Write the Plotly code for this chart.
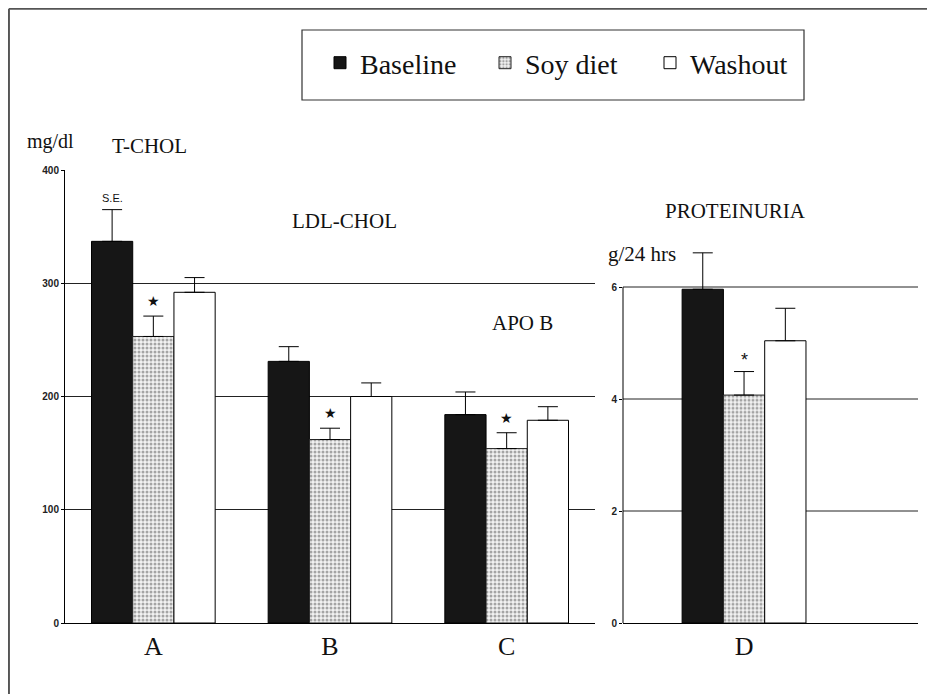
import plotly.graph_objects as go

# ---- data ----
groups_left = ["A", "B", "C"]
baseline_left = [337, 231, 184]
baseline_left_se = [28, 13, 20]
soy_left = [253, 162, 154]
soy_left_se = [18, 10, 14]
washout_left = [292, 200, 179]
washout_left_se = [13, 12, 12]

group_right = ["D"]
baseline_right = [5.96]
baseline_right_se = [0.65]
soy_right = [4.07]
soy_right_se = [0.42]
washout_right = [5.04]
washout_right_se = [0.58]

left_ticks = [0, 100, 200, 300, 400]
right_ticks = [0, 2, 4, 6]

W, H = 935, 694
OFF = 8  # page body margin

def px(x):
    return (x - OFF) / W
def py(y):
    return (H - (y - OFF)) / H

SERIF = "Liberation Serif"
SANS = "Liberation Sans"

base_style = dict(marker=dict(color="#161616", line=dict(color="black", width=1)))
soy_style = dict(marker=dict(color="white", line=dict(color="#222", width=1),
                             pattern=dict(shape=".", fgcolor="#555", bgcolor="#f2f2f2",
                                          size=4, solidity=0.45)))
wash_style = dict(marker=dict(color="white", line=dict(color="black", width=1)))

def err(vals):
    return dict(type="data", array=vals, arrayminus=[0] * len(vals), symmetric=False,
                color="black", thickness=1, width=10)

fig = go.Figure()
fig.add_trace(go.Bar(name="Baseline", x=groups_left, y=baseline_left, error_y=err(baseline_left_se),
                     xaxis="x", yaxis="y", legendgroup="b", **base_style))
fig.add_trace(go.Bar(name="Soy diet", x=groups_left, y=soy_left, error_y=err(soy_left_se),
                     xaxis="x", yaxis="y", legendgroup="s", **soy_style))
fig.add_trace(go.Bar(name="Washout", x=groups_left, y=washout_left, error_y=err(washout_left_se),
                     xaxis="x", yaxis="y", legendgroup="w", **wash_style))
fig.add_trace(go.Bar(name="Baseline", x=group_right, y=baseline_right, error_y=err(baseline_right_se),
                     xaxis="x2", yaxis="y2", legendgroup="b", showlegend=False, **base_style))
fig.add_trace(go.Bar(name="Soy diet", x=group_right, y=soy_right, error_y=err(soy_right_se),
                     xaxis="x2", yaxis="y2", legendgroup="s", showlegend=False, **soy_style))
fig.add_trace(go.Bar(name="Washout", x=group_right, y=washout_right, error_y=err(washout_right_se),
                     xaxis="x2", yaxis="y2", legendgroup="w", showlegend=False, **wash_style))

y0 = py(623)
left_top = py(170)
right_unit = (623 - 287) / 6.0
right_max = 6.8
right_top = py(623 - right_max * right_unit)

tickfont = dict(family=SANS, size=10, color="#222", weight="bold")
catfont = dict(family=SERIF, size=26, color="#111")

fig.update_layout(
    width=W, height=H,
    margin=dict(l=0, r=0, t=0, b=0, pad=0, autoexpand=False),
    paper_bgcolor="white", plot_bgcolor="rgba(0,0,0,0)",
    barmode="group", bargap=0.30, bargroupgap=0,
    font=dict(family=SERIF, color="#111"),
    showlegend=True,
    legend=dict(orientation="h", x=px(320), y=py(63), xanchor="left", yanchor="middle",
                bgcolor="rgba(0,0,0,0)", borderwidth=0,
                font=dict(family=SERIF, size=28, color="#111"),
                entrywidth=120, entrywidthmode="pixels", traceorder="normal"),
    xaxis=dict(domain=[px(65), px(595)], range=[-0.5, 2.5], showline=True, linecolor="black",
               linewidth=1, showgrid=False, zeroline=False, showticklabels=True,
               tickfont=catfont, ticks="", ticklabelstandoff=0),
    yaxis=dict(domain=[y0, left_top], range=[0, 400], showline=True, linecolor="black",
               linewidth=1, showgrid=True, gridcolor="#222", gridwidth=1, zeroline=False,
               tickvals=left_ticks, ticks="outside", ticklen=3, tickcolor="black",
               tickfont=tickfont, anchor="x"),
    xaxis2=dict(domain=[px(623), px(918)], range=[-0.684, 0.983], showline=True, linecolor="black",
                linewidth=1, showgrid=False, zeroline=False, showticklabels=True, ticks="",
                tickfont=catfont, ticklabelstandoff=0, anchor="y2"),
    yaxis2=dict(domain=[y0, right_top], range=[0, right_max], showline=False, showgrid=False,
                zeroline=False, tickvals=right_ticks, ticks="outside", ticklen=3,
                tickcolor="black", tickfont=tickfont, anchor="x2"),
)

shapes = []
# right panel axis line and grid lines limited to 0..6
shapes.append(dict(type="line", xref="x2 domain", yref="y2", x0=0, x1=0, y0=0, y1=6,
                   line=dict(color="black", width=1), layer="above"))
for v in right_ticks[1:]:
    shapes.append(dict(type="line", xref="x2 domain", yref="y2", x0=0, x1=1, y0=v, y1=v,
                       line=dict(color="#222", width=1), layer="below"))
# legend box
shapes.append(dict(type="rect", xref="paper", yref="paper", x0=px(302), x1=px(804),
                   y0=py(100), y1=py(30), line=dict(color="#333", width=1.2)))
# outer frame (left and top edges visible)
shapes.append(dict(type="line", xref="paper", yref="paper", x0=0.001, x1=1,
                   y0=0.999, y1=0.999, line=dict(color="#555", width=2)))
shapes.append(dict(type="line", xref="paper", yref="paper", x0=0.001, x1=0.001,
                   y0=0, y1=0.999, line=dict(color="#555", width=2)))
fig.update_layout(shapes=shapes)

ann = []
def text(x, y, s, size, family=SERIF, **kw):
    ann.append(dict(x=px(x), y=py(y), xref="paper", yref="paper", text=s, showarrow=False,
                    font=dict(family=family, size=size, color="#111"),
                    xanchor="center", yanchor="middle", **kw))

text(50, 141, "mg/dl", 20)
text(149, 146, "T-CHOL", 21)
text(344, 221, "LDL-CHOL", 21)
text(522, 323, "APO B", 21)
text(735, 211, "PROTEINURIA", 21)
text(642, 254, "g/24 hrs", 21)

# S.E. label above the first error bar
ann.append(dict(x=groups_left[0], y=baseline_left[0] + baseline_left_se[0], xref="x", yref="y",
                xshift=-41, yshift=12, text="S.E.", showarrow=False,
                font=dict(family=SANS, size=11, color="#111")))
# significance marks above soy diet bars
for g, v, s in zip(groups_left, soy_left, soy_left_se):
    ann.append(dict(x=g, y=v + s, xref="x", yref="y", yshift=15, text="★", showarrow=False,
                    font=dict(family="DejaVu Sans", size=14, color="#111"), yanchor="middle"))
ann.append(dict(x=group_right[0], y=soy_right[0] + soy_right_se[0], xref="x2", yref="y2",
                yshift=12, text="*", showarrow=False,
                font=dict(family=SANS, size=18, color="#111"), yanchor="middle"))
fig.update_layout(annotations=ann)

fig.write_html("out.html")
